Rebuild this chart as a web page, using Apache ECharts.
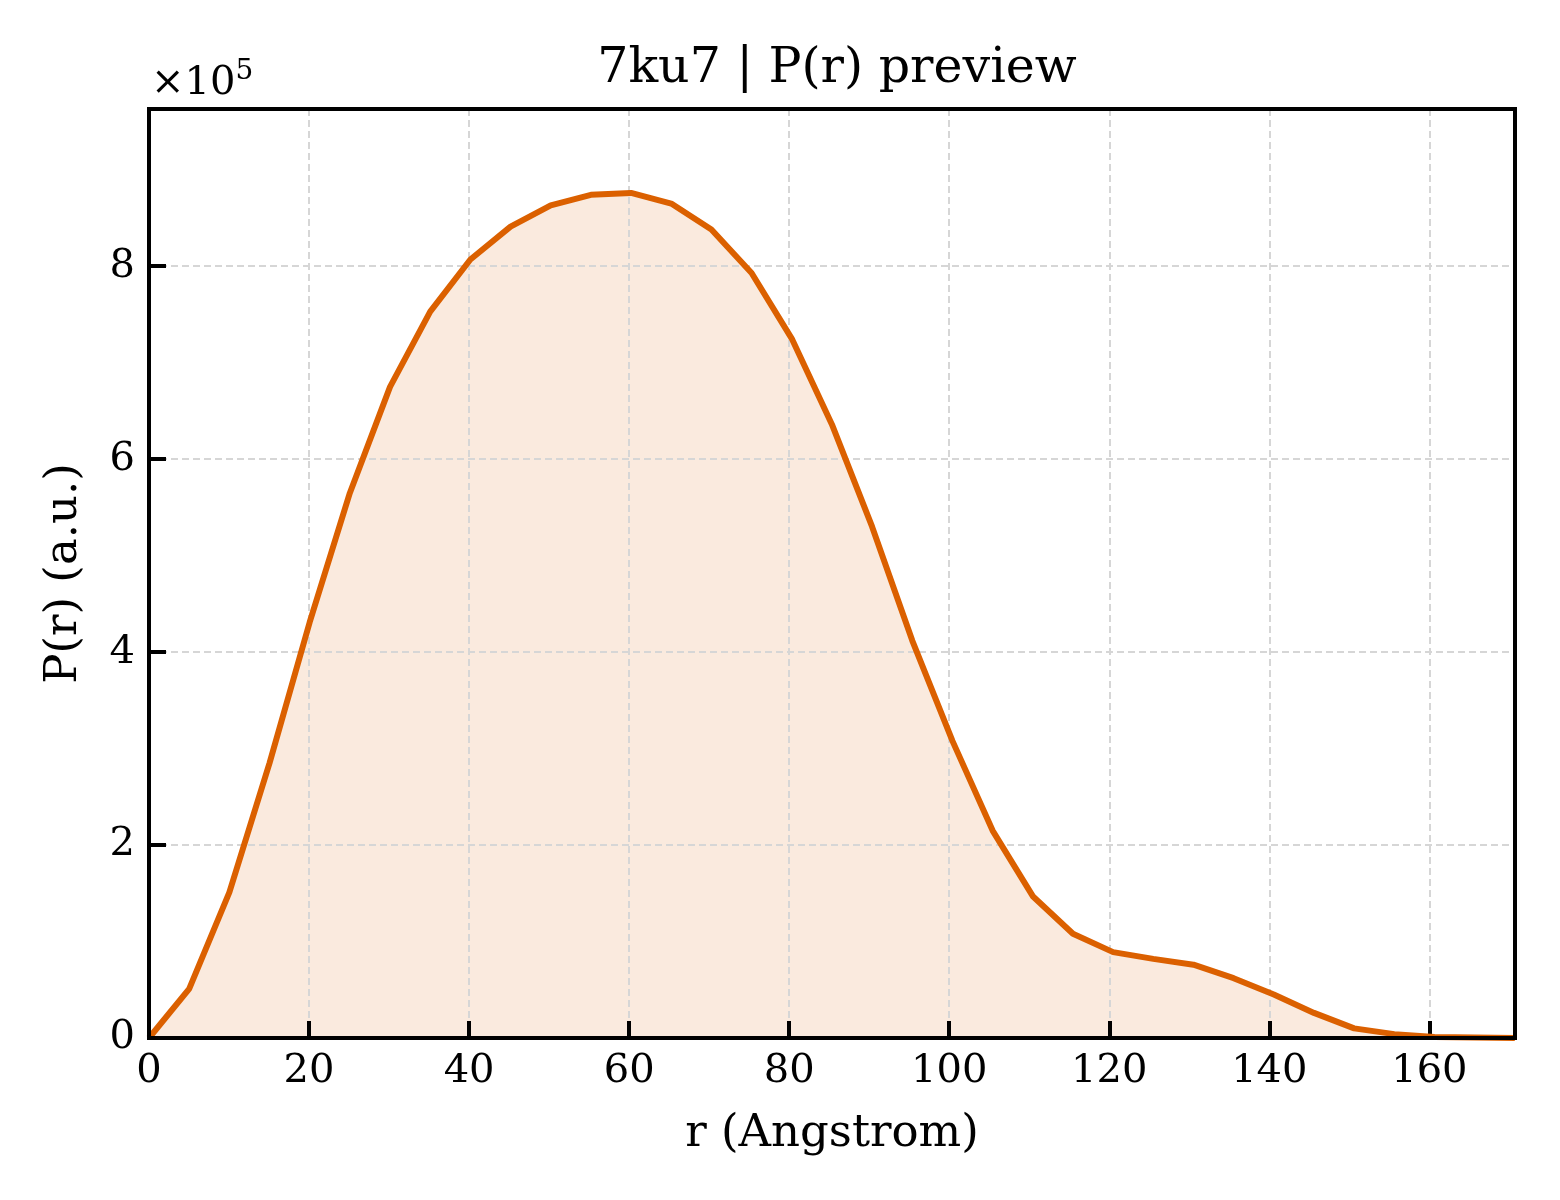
<!DOCTYPE html>
<html>
<head>
<meta charset="utf-8">
<script src="https://cdn.jsdelivr.net/npm/echarts@6/dist/echarts.min.js"></script>
<style>html,body{margin:0;padding:0;background:#fff}#c{width:1560px;height:1200px}</style>
</head>
<body>
<div id="c"></div>
<script>
// r in Angstrom
const rValues = [0, 5.02, 10.04, 15.06, 20.08, 25.10, 30.12, 35.14, 40.16, 45.18, 50.20, 55.22, 60.24, 65.26, 70.28, 75.30, 80.32, 85.34, 90.36, 95.38, 100.40, 105.42, 110.44, 115.46, 120.48, 125.50, 130.52, 135.54, 140.56, 145.58, 150.60, 155.62, 160.64, 165.66, 170.68];
// P(r) in units of 1e5
const prValues = [0, 0.51, 1.51, 2.85, 4.31, 5.65, 6.75, 7.53, 8.07, 8.41, 8.63, 8.74, 8.76, 8.65, 8.38, 7.93, 7.25, 6.36, 5.30, 4.12, 3.08, 2.15, 1.47, 1.08, 0.89, 0.82, 0.76, 0.62, 0.45, 0.26, 0.10, 0.04, 0.01, 0.005, 0];
const xTicks = [0, 20, 40, 60, 80, 100, 120, 140, 160];
const yTicks = [0, 2, 4, 6, 8];

const font = 'DejaVu Serif';
const points = rValues.map((r, i) => [r, prValues[i]]);
const chart = echarts.init(document.getElementById('c'), null, {renderer: 'canvas'});
chart.setOption({
  backgroundColor: '#fff',
  animation: false,
  title: {
    text: '7ku7 | P(r) preview',
    left: 832, top: 40, textAlign: 'center',
    textStyle: {fontFamily: font, fontSize: 49, fontWeight: 'normal', color: '#000'}
  },
  graphic: [{
    type: 'text', left: 151, top: 58,
    style: {
      text: '{a|×10}{b|5}',
      rich: {
        a: {fontFamily: font, fontSize: 40, fill: '#000', verticalAlign: 'bottom'},
        b: {fontFamily: font, fontSize: 28, fill: '#000', verticalAlign: 'top', padding: [0, 0, 18, 0]}
      }
    }
  }],
  grid: {left: 149, right: 45, top: 109, bottom: 162, show: true, borderColor: '#000', borderWidth: 4, z: 5},
  xAxis: [{
    type: 'value', min: 0, max: 170.7, interval: 20, position: 'bottom',
    name: 'r (Angstrom)', nameLocation: 'middle', nameGap: 74,
    nameTextStyle: {fontFamily: font, fontSize: 45, color: '#000'},
    axisLine: {show: true, onZero: false, lineStyle: {color: '#000', width: 4}},
    axisTick: {show: true, inside: true, length: 17, lineStyle: {color: '#000', width: 4}},
    axisLabel: {fontFamily: font, fontSize: 40, color: '#000', margin: 14,
      formatter: v => xTicks.includes(v) ? String(v) : '', showMaxLabel: false},
    splitLine: {show: true, lineStyle: {color: '#d6d6d6', width: 2, type: [7, 4]}}
  }],
  yAxis: [{
    type: 'value', min: 0, max: 9.63, interval: 2, position: 'left',
    name: 'P(r) (a.u.)', nameLocation: 'middle', nameGap: 62, nameRotate: 90,
    nameTextStyle: {fontFamily: font, fontSize: 45, color: '#000'},
    axisLine: {show: true, onZero: false, lineStyle: {color: '#000', width: 4}},
    axisTick: {show: true, inside: true, length: 17, lineStyle: {color: '#000', width: 4}},
    axisLabel: {fontFamily: font, fontSize: 40, color: '#000', margin: 14,
      formatter: v => yTicks.includes(v) ? String(v) : '', showMaxLabel: false},
    splitLine: {show: true, lineStyle: {color: '#d6d6d6', width: 2, type: [7, 4]}}
  }],
  series: [{
    type: 'line',
    data: points,
    showSymbol: false,
    lineStyle: {width: 0, opacity: 0},
    areaStyle: {color: 'rgba(217,95,2,0.13)', opacity: 1},
    silent: true,
    z: -1
  }, {
    type: 'line',
    data: points,
    showSymbol: false,
    lineStyle: {color: '#db6000', width: 6},
    itemStyle: {color: '#db6000'},
    z: 2
  }]
});
</script>
</body>
</html>
